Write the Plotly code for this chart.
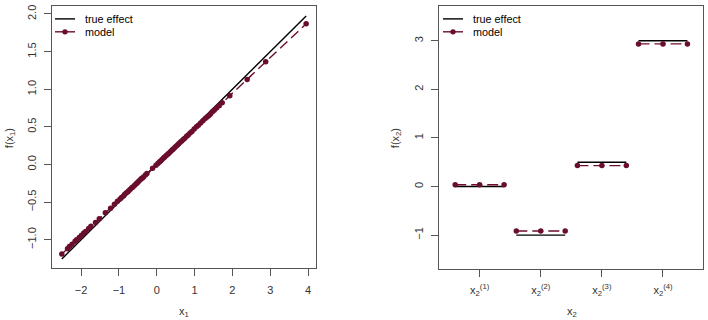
import plotly.graph_objects as go

# ---------------- data ----------------
# left panel: continuous covariate x1
x1 = [-2.51, -2.36, -2.31, -2.24, -2.16, -2.12, -2.05, -1.99, -1.93, -1.88,
      -1.80, -1.74, -1.62, -1.52, -1.36, -1.22, -1.12, -1.04, -0.97, -0.93,
      -0.88, -0.85, -0.81, -0.77, -0.74, -0.70, -0.66, -0.63, -0.59, -0.55,
      -0.52, -0.49, -0.45, -0.41, -0.38, -0.35, -0.30, -0.26, -0.11, -0.02,
      0.03, 0.07, 0.10, 0.14, 0.18, 0.21, 0.25, 0.29, 0.32, 0.36,
      0.40, 0.43, 0.47, 0.51, 0.55, 0.58, 0.62, 0.66, 0.70, 0.74,
      0.79, 0.83, 0.88, 0.93, 0.99, 1.05, 1.10, 1.16, 1.22, 1.28,
      1.33, 1.38, 1.42, 1.47, 1.52, 1.58, 1.65, 1.73, 1.93, 2.39,
      2.88, 3.95]
model1 = [-1.19, -1.12, -1.09, -1.06, -1.02, -1.00, -0.97, -0.94, -0.91, -0.89,
          -0.85, -0.82, -0.77, -0.72, -0.64, -0.58, -0.53, -0.49, -0.46, -0.44,
          -0.42, -0.40, -0.38, -0.365, -0.35, -0.33, -0.31, -0.30, -0.28, -0.26,
          -0.245, -0.23, -0.21, -0.19, -0.18, -0.165, -0.14, -0.12, -0.05, -0.01,
          0.014, 0.033, 0.047, 0.066, 0.085, 0.10, 0.12, 0.137, 0.15, 0.17,
          0.19, 0.204, 0.223, 0.242, 0.26, 0.275, 0.294, 0.313, 0.332, 0.35,
          0.374, 0.393, 0.417, 0.44, 0.47, 0.50, 0.52, 0.55, 0.58, 0.61,
          0.63, 0.65, 0.67, 0.70, 0.72, 0.75, 0.78, 0.82, 0.915, 1.13,
          1.365, 1.87]
true1_x = [-2.51, 3.95]
true1_y = [-1.255, 1.975]

# right panel: categorical covariate x2 (4 levels)
levels = [1, 2, 3, 4]
level_labels = ["x<sub>2</sub><sup>(1)</sup>", "x<sub>2</sub><sup>(2)</sup>",
                "x<sub>2</sub><sup>(3)</sup>", "x<sub>2</sub><sup>(4)</sup>"]
true2 = [0.0, -1.0, 0.5, 3.0]
model2 = [0.035, -0.915, 0.43, 2.935]
half_width = 0.4

left_xticks = [-2, -1, 0, 1, 2, 3, 4]
left_yticks = [-1.0, -0.5, 0.0, 0.5, 1.0, 1.5, 2.0]
right_yticks = [-1, 0, 1, 2, 3]
legend_names = ["true effect", "model"]

# ---------------- styles ----------------
MODEL_COL = "#6B0E2E"
FONT = "Liberation Sans, Arial, sans-serif"
TXT = "#333333"
FS = 11
LFS = 10.8
W, H = 708, 320

# build segment arrays for the right panel
t2x, t2y, m2x, m2y = [], [], [], []
for lv, tv, mv in zip(levels, true2, model2):
    t2x += [lv - half_width, lv + half_width, None]
    t2y += [tv, tv, None]
    m2x += [lv - half_width, lv, lv + half_width, None]
    m2y += [mv, mv, mv, None]

fig = go.Figure()
fig.add_trace(go.Scatter(x=true1_x, y=true1_y, mode="lines", name=legend_names[0],
                         line=dict(color="black", width=1.4), xaxis="x", yaxis="y"))
fig.add_trace(go.Scatter(x=x1, y=model1, mode="lines+markers", name=legend_names[1],
                         line=dict(color=MODEL_COL, width=1.4, dash="10px,5px"),
                         marker=dict(color=MODEL_COL, size=5.5), xaxis="x", yaxis="y"))
fig.add_trace(go.Scatter(x=t2x, y=t2y, mode="lines", name=legend_names[0],
                         line=dict(color="black", width=1.4), xaxis="x2", yaxis="y2"))
fig.add_trace(go.Scatter(x=m2x, y=m2y, mode="lines+markers", name=legend_names[1],
                         line=dict(color=MODEL_COL, width=1.4, dash="11px,5px"),
                         marker=dict(color=MODEL_COL, size=5.5), xaxis="x2", yaxis="y2"))

axis_common = dict(showgrid=False, zeroline=False, showline=True, mirror=True,
                   linecolor="#555555", linewidth=1, ticks="outside", ticklen=7,
                   tickcolor="#555555", ticklabelstandoff=4,
                   tickfont=dict(family=FONT, size=FS, color=TXT))


def px(x):
    return x / W


def py(y):
    return 1 - y / H


# hand-drawn R-style legends (no box), one per panel
shapes, annotations = [], []
for lx in (55, 443):
    # true effect: solid black line
    shapes.append(dict(type="line", xref="paper", yref="paper",
                       x0=px(lx), x1=px(lx + 20), y0=py(17), y1=py(17),
                       line=dict(color="black", width=1.4)))
    # model: line with point
    shapes.append(dict(type="line", xref="paper", yref="paper",
                       x0=px(lx), x1=px(lx + 20), y0=py(30), y1=py(30),
                       line=dict(color=MODEL_COL, width=1.4)))
    shapes.append(dict(type="circle", xref="paper", yref="paper",
                       x0=px(lx + 10 - 2.7), x1=px(lx + 10 + 2.7),
                       y0=py(30 - 2.7), y1=py(30 + 2.7),
                       fillcolor=MODEL_COL, line=dict(color=MODEL_COL, width=0)))
    for name, ly in zip(legend_names, (17, 30)):
        annotations.append(dict(text=name, x=px(lx + 28), y=py(ly), xref="paper", yref="paper",
                                xanchor="left", yanchor="middle", showarrow=False,
                                font=dict(family=FONT, size=LFS, color="black")))

# axis titles
for text, x, y, ang in [("f(x<sub>1</sub>)", 10, 137, -90), ("x<sub>1</sub>", 184, 312, 0),
                        ("f(x<sub>2</sub>)", 396, 137, -90), ("x<sub>2</sub>", 571.5, 312, 0)]:
    annotations.append(dict(text=text, x=px(x), y=py(y), xref="paper", yref="paper",
                            xanchor="center", yanchor="middle", textangle=ang,
                            showarrow=False, font=dict(family=FONT, size=FS, color=TXT)))

fig.update_layout(
    width=W, height=H, margin=dict(l=0, r=0, t=0, b=0),
    paper_bgcolor="white", plot_bgcolor="white",
    font=dict(family=FONT, size=FS, color=TXT),
    showlegend=False,
    xaxis=dict(domain=[px(52), px(316)], range=[-2.77, 4.21], tickvals=left_xticks,
               anchor="y", **axis_common),
    yaxis=dict(domain=[py(268), py(4.5)], range=[-1.38, 2.10], tickvals=left_yticks,
               tickformat=".1f", tickangle=-90, anchor="x", **axis_common),
    xaxis2=dict(domain=[px(439.3), px(703.3)], range=[0.34, 4.66], tickvals=levels,
                ticktext=level_labels, anchor="y2", **axis_common),
    yaxis2=dict(domain=[py(268.3), py(4.3)], range=[-1.69, 3.71], tickvals=right_yticks,
                tickangle=-90, anchor="x2", **axis_common),
    shapes=shapes,
    annotations=annotations,
)

fig.write_html("out.html")
